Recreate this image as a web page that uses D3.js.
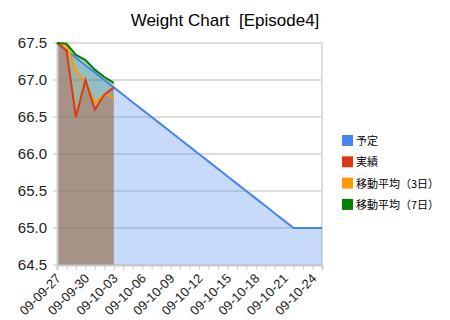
<!DOCTYPE html>
<html><head><meta charset="utf-8">
<script src="https://cdn.jsdelivr.net/npm/d3@7"></script>
<style>
html,body{margin:0;padding:0;background:#fff;}
svg{display:block;}
</style></head>
<body>
<svg id="c" width="450" height="320"></svg>
<script>
const dates = ["2009-09-27","2009-09-28","2009-09-29","2009-09-30","2009-10-01","2009-10-02","2009-10-03",
"2009-10-04","2009-10-05","2009-10-06","2009-10-07","2009-10-08","2009-10-09","2009-10-10","2009-10-11",
"2009-10-12","2009-10-13","2009-10-14","2009-10-15","2009-10-16","2009-10-17","2009-10-18","2009-10-19",
"2009-10-20","2009-10-21","2009-10-22","2009-10-23","2009-10-24","2009-10-25"];
const plan = [67.5,67.4,67.3,67.2,67.1,67.0,66.9,66.8,66.7,66.6,66.5,66.4,66.3,66.2,66.1,66.0,65.9,65.8,65.7,65.6,65.5,65.4,65.3,65.2,65.1,65.0,65.0,65.0,65.0];
const actual = [67.5,67.4,66.5,67.0,66.6,66.8,66.9];
const ma3 = [67.5,67.47,67.13,66.97,66.7,66.8,66.77];
const ma7 = [67.5,67.49,67.34,67.27,67.14,67.04,66.96];
const xTickLabels = ["09-09-27","09-09-30","09-10-03","09-10-06","09-10-09","09-10-12","09-10-15","09-10-18","09-10-21","09-10-24"];
const yTicks = [64.5,65.0,65.5,66.0,66.5,67.0,67.5];
const seriesNames = ["予定","実績","移動平均（3日）","移動平均（7日）"];
const colors = ["#4684ee","#dc3912","#ff9900","#008000"];
const title = "Weight Chart  [Episode4]";

const parse = d3.utcParse("%Y-%m-%d");
const dd = dates.map(parse);
const svg = d3.select("#c");
const L = 57, R = 322, T = 43, B = 265;
const x = d3.scaleUtc().domain([dd[0], parse("2009-10-25")]).range([L, R]);
const y = d3.scaleLinear().domain([64.5, 67.5]).range([B, T]);

// title
svg.append("text").attr("x", 225).attr("y", 26).attr("text-anchor", "middle")
  .attr("font-family", "Liberation Sans, Arial, sans-serif").attr("font-size", 17)
  .style("white-space", "pre").attr("fill", "#000").text(title);

// gridlines
svg.append("g").selectAll("line").data(yTicks).join("line")
  .attr("x1", L - 4).attr("x2", R).attr("y1", d => y(d)).attr("y2", d => y(d))
  .attr("stroke", "#dddddd").attr("stroke-width", 2).attr("shape-rendering", "crispEdges");
svg.append("line").attr("x1", R).attr("x2", R).attr("y1", T).attr("y2", B)
  .attr("stroke", "#dddddd").attr("stroke-width", 2);

const series = [
  {vals: plan, c: colors[0]},
  {vals: actual, c: colors[1]},
  {vals: ma3, c: colors[2]},
  {vals: ma7, c: colors[3]}
];
const area = d3.area().x((d, i) => x(dd[i])).y0(B).y1(d => y(d));
const line = d3.line().x((d, i) => x(dd[i])).y(d => y(d));
// areas drawn in reverse order
[3, 2, 1, 0].forEach(k => {
  svg.append("path").attr("d", area(series[k].vals)).attr("fill", series[k].c).attr("fill-opacity", 0.3);
});
// axes
const xAxis = d3.axisBottom(x).tickValues(dd).tickSize(5).tickFormat(d => {
  const s = d3.utcFormat("%y-%m-%d")(d);
  return xTickLabels.includes(s) ? s : "";
});
const gx = svg.append("g").attr("transform", `translate(0,${B})`).call(xAxis);
gx.select(".domain").attr("stroke", "#cccccc").attr("stroke-width", 2);
gx.selectAll(".tick line").attr("stroke", "#cccccc");
gx.selectAll(".tick text").attr("font-family", "Liberation Sans, Arial, sans-serif").attr("font-size", 13)
  .attr("fill", "#222").attr("text-anchor", "end")
  .attr("transform", "translate(1,11) rotate(-45)").attr("dy", "0.35em").attr("y", 0).attr("x", 0);
const yAxis = d3.axisLeft(y).tickValues(yTicks).tickSize(0).tickPadding(10).tickFormat(d3.format(".1f"));
const gy = svg.append("g").attr("transform", `translate(${L},0)`).call(yAxis);
gy.select(".domain").attr("stroke", "#cccccc").attr("stroke-width", 2);
gy.selectAll(".tick text").attr("font-family", "Liberation Sans, Arial, sans-serif").attr("font-size", 15).attr("fill", "#222");

// lines
[0, 2, 1, 3].forEach(k => {
  svg.append("path").attr("d", line(series[k].vals)).attr("fill", "none")
    .attr("stroke", series[k].c).attr("stroke-width", 2).attr("stroke-linejoin", "miter");
});

// legend
const lg = svg.append("g").attr("transform", "translate(342,135)");
seriesNames.forEach((n, i) => {
  const g = lg.append("g").attr("transform", `translate(0,${i * 21.3})`);
  g.append("rect").attr("width", 11).attr("height", 11).attr("fill", colors[i]);
  g.append("text").attr("x", 14).attr("y", 10).attr("font-family", "Noto Sans CJK JP, sans-serif")
    .attr("font-size", 11).attr("fill", "#000").text(n);
});
</script>
</body></html>
